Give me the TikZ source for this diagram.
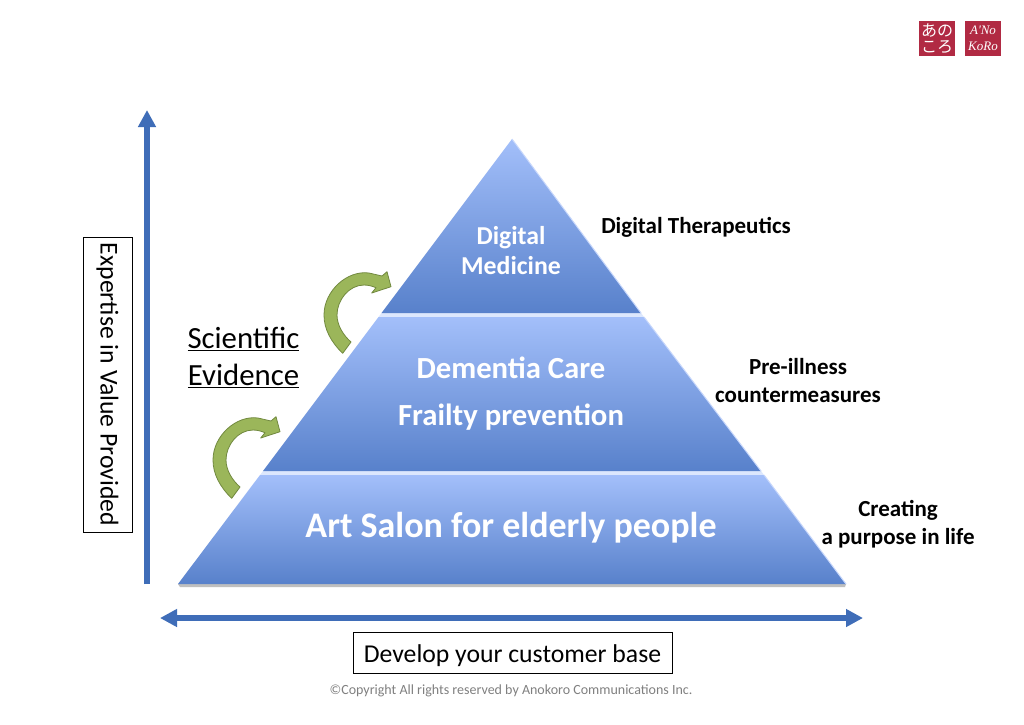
\documentclass[tikz,border=0pt]{standalone}
\usepackage{fontspec}
\setmainfont{Carlito}
\newfontfamily\cjkfont{Noto Sans CJK JP}
\newfontfamily\logofont{Liberation Serif}
\usetikzlibrary{arrows.meta}
\definecolor{axisblue}{HTML}{3F6DB8}
\definecolor{tiertop}{HTML}{A3BFFA}
\definecolor{tierbottom}{HTML}{5881CB}
\definecolor{tiergap}{HTML}{DCE7FD}
\definecolor{arrowgreen}{HTML}{9BB65A}
\definecolor{arrowedge}{HTML}{71893F}
\definecolor{logored}{HTML}{B12A43}
\tikzset{
    tier/.style={top color=tiertop, bottom color=tierbottom, draw=none},
    tierlabel/.style={text=white, align=center, inner sep=0pt},
    sidelabel/.style={text=black, font=\bfseries\fontsize{23}{28}\selectfont, align=center, inner sep=0pt},
    framelabel/.style={draw=black, fill=white, line width=0.8pt, font=\fontsize{25.7}{30}\selectfont, inner sep=0pt},
    axis/.style={draw=axisblue, line width=5.5pt, -{Triangle[length=17pt, width=17pt]}},
    biaxis/.style={draw=axisblue, line width=5.5pt, {Triangle[length=17pt, width=17pt]}-{Triangle[length=17pt, width=17pt]}},
    logobox/.style={fill=logored, text=white, minimum width=36pt, minimum height=35pt, inner sep=0pt, align=center}
}
\begin{document}
\begin{tikzpicture}[x=1pt, y=-1pt]
    \useasboundingbox[fill=white] (0, 0) rectangle (1024, 724);

    % pyramid
    \fill[black!25] (178, 584) -- (846, 584) -- (845, 587) -- (180, 587) -- cycle;
    \fill[tiergap] (381.5, 313) -- (641, 313) -- (644, 317) -- (378.5, 317) -- cycle;
    \fill[tiergap] (263, 471) -- (761, 471) -- (764, 475) -- (260, 475) -- cycle;
    \shade[tier] (512, 139) -- (641, 313) -- (381.5, 313) -- cycle;
    \shade[tier] (378.5, 317) -- (644, 317) -- (761, 471) -- (263, 471) -- cycle;
    \shade[tier] (260, 475) -- (764, 475) -- (846, 584) -- (178, 584) -- cycle;
    \draw[tiertop!60!white, line width=1pt] (512, 139) -- (641, 313);
    \draw[tiertop!60!white, line width=1pt] (644, 317) -- (761, 471);
    \draw[tiertop!60!white, line width=1pt] (764, 475) -- (846, 584);

    \node[tierlabel, font=\bfseries\fontsize{25.8}{30}\selectfont] (digital) at (511, 250.5) {Digital\\Medicine};
    \node[tierlabel, font=\bfseries\fontsize{30.7}{34}\selectfont] (dementia) at (511, 368) {Dementia Care};
    \node[tierlabel, font=\bfseries\fontsize{30.7}{34}\selectfont] (frailty) at (511, 417) {Frailty prevention};
    \node[tierlabel, font=\bfseries\fontsize{36}{40}\selectfont] (salon) at (511, 528) {Art Salon for elderly people};

    % green arrows
    \foreach \dx/\dy in {0/0, 111/-145} {
        \filldraw[xshift=\dx, yshift=-\dy, fill=arrowgreen, draw=arrowedge, line width=0.8pt, line join=round]
            (231.7, 498.3) .. controls (220, 487) and (213, 474) .. (213, 460)
            .. controls (213, 436) and (236, 415) .. (258, 418)
            -- (271, 421) -- (276, 416.7) -- (280, 431.7) -- (260.7, 438) -- (265, 432.7)
            .. controls (261, 431) and (257, 430) .. (253, 430)
            .. controls (238, 430) and (226, 445) .. (226, 460)
            .. controls (226, 470) and (232, 480) .. (240, 487) -- cycle;
    }

    % axes
    \coordinate (ytail) at (147, 584);
    \coordinate (yhead) at (147, 110);
    \coordinate (xleft) at (160, 618);
    \coordinate (xright) at (863, 618);
    \draw[axis] (ytail) -- (yhead);
    \draw[biaxis] (xleft) -- (xright);

    % labels
    \node[sidelabel] (therapeutics) at (696, 227) {Digital Therapeutics};
    \node[sidelabel] (preillness) at (798, 381) {Pre-illness\\countermeasures};
    \node[sidelabel] (purpose) at (898, 524) {Creating\\a purpose in life};

    \node[inner sep=0pt, font=\fontsize{30.8}{34}\selectfont] (scientific) at (243.5, 339) {\underline{Scientific}};
    \node[inner sep=0pt, font=\fontsize{30.8}{34}\selectfont] (evidence) at (243.5, 376) {\underline{Evidence}};

    \node[framelabel, minimum width=319pt, minimum height=41pt, text depth=0pt, yshift=0pt] (customer) at (512.5, 652.5) {\raisebox{-2pt}{Develop your customer base}};
    \node[framelabel, rotate=-90, minimum width=295pt, minimum height=49pt] (expertise) at (107.5, 384.5) {Expertise in Value Provided};
    \node[text=black!50, inner sep=0pt, font=\fontsize{14}{18}\selectfont] (copyright) at (511, 691) {©Copyright All rights reserved by Anokoro Communications Inc.};

    % logo
    \node[logobox, font=\cjkfont\fontsize{16}{16.5}\selectfont] (logoja) at (937, 38.5) {あの\\ころ};
    \node[logobox, font=\logofont\itshape\fontsize{13}{16}\selectfont] (logoen) at (983, 38.5) {A'No\\KoRo};
\end{tikzpicture}
\end{document}
